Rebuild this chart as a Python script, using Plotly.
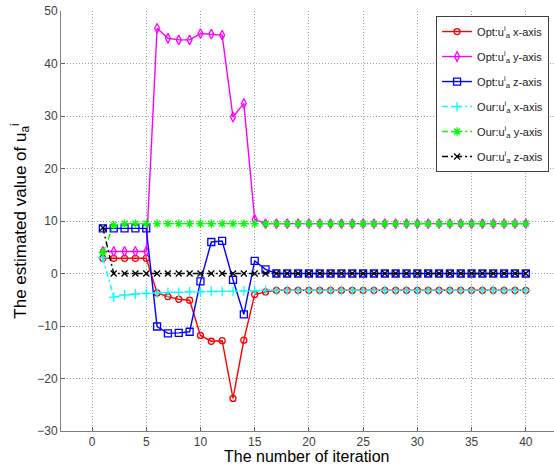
import plotly.graph_objects as go

iterations = list(range(1, 41))

opt_x = [2.9, 2.9, 2.9, 2.9, 2.9, -3.7, -4.4, -4.9, -5.1, -11.8, -12.9, -12.8, -23.8, -12.7, -4.0, -3.5] + [-3.2] * 24
opt_y = [4.2, 4.2, 4.2, 4.2, 4.2, 46.7, 44.8, 44.5, 44.5, 45.7, 45.6, 45.4, 29.8, 32.4, 10.3] + [9.5] * 25
opt_z = [8.6, 8.6, 8.6, 8.6, 8.6, -10.1, -11.4, -11.3, -11.1, -1.5, 6.0, 6.2, -1.2, -7.8, 2.4, 0.8] + [0.0] * 24
our_x = [3.0, -4.5, -4.1, -3.9, -3.8, -3.7, -3.6, -3.6, -3.5, -3.5, -3.4, -3.4, -3.4, -3.3, -3.3] + [-3.2] * 25
our_y = [4.0, 9.2] + [9.5] * 38
our_z = [8.7] + [0.0] * 39

series = [
    ("Opt:u<sup>i</sup><sub>a</sub> x-axis", opt_x, "#ff0000", "circle-open", "solid", 6),
    ("Opt:u<sup>i</sup><sub>a</sub> y-axis", opt_y, "#ff00ff", "diamond-tall-open", "solid", 7),
    ("Opt:u<sup>i</sup><sub>a</sub> z-axis", opt_z, "#0000ff", "square-open", "solid", 7),
    ("Our:u<sup>i</sup><sub>a</sub> x-axis", our_x, "#00ffff", "cross-thin-open", "6px,3px,2px,3px", 7),
    ("Our:u<sup>i</sup><sub>a</sub> y-axis", our_y, "#00ff00", "asterisk-open", "6px,3px,2px,3px", 7),
    ("Our:u<sup>i</sup><sub>a</sub> z-axis", our_z, "#000000", "x-thin-open", "6px,3px,2px,3px", 6),
]

fig = go.Figure()
for i, (name, vals, color, sym, dash, msize) in enumerate(series):
    fig.add_trace(go.Scatter(
        x=iterations, y=vals, name=name, mode="lines+markers", legendgroup=f"g{i}",
        line=dict(color=color, width=1.4, dash=dash),
        marker=dict(symbol=sym, size=msize, color=color, line=dict(color=color, width=1.3)),
    ))

axis_common = dict(
    showline=True, linecolor="#808080", linewidth=1, mirror=False,
    ticks="inside", ticklen=4, tickcolor="#606060",
    showgrid=True, gridcolor="#a0a0a0", griddash="1px,2px", gridwidth=1,
    zeroline=False,
    tickfont=dict(family="Liberation Sans, Arial", size=12, color="#404040"),
)

fig.update_layout(
    width=554, height=465,
    margin=dict(l=61, r=0, t=11, b=34),
    paper_bgcolor="white", plot_bgcolor="white",
    font=dict(family="Liberation Sans, Arial", color="#000000"),
    xaxis=dict(range=[-2.86, 42.6], tickvals=[0, 5, 10, 15, 20, 25, 30, 35, 40], **axis_common),
    yaxis=dict(range=[-30, 50], tickvals=[-30, -20, -10, 0, 10, 20, 30, 40, 50],
               title=dict(text="The estimated value of u<sub>a</sub><sup>i</sup>", font=dict(size=17), standoff=6), **axis_common),
    legend=dict(
        x=0.99, y=0.988, xanchor="right", yanchor="top",
        bgcolor="white", bordercolor="#404040", borderwidth=1,
        font=dict(family="Liberation Sans, Arial", size=11, color="#202020"),
        tracegroupgap=6, itemwidth=30,
    ),
    showlegend=True,
    annotations=[dict(text="The number of iteration", x=(306 - 61) / 493, y=-(456 - 431) / 420,
                      xref="paper", yref="paper", yanchor="middle",
                      showarrow=False, font=dict(size=16, color="#000000"))],
)

fig.write_html("out.html", config={"displayModeBar": False},
               post_script="document.body.style.margin='0';document.body.style.padding='0';")
